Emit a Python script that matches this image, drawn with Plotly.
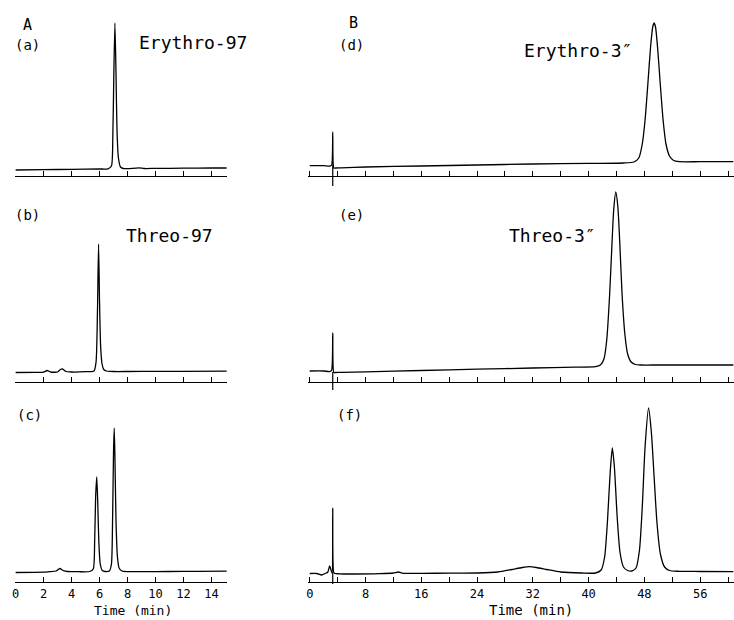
import plotly.graph_objects as go

# ---------------- chromatogram data (detector response, arbitrary units) ----------------
# Column A: 0-15 min runs
a_time = [0, 2, 4, 6, 6.6, 6.85, 6.95, 7.02, 7.1, 7.18, 7.25, 7.35, 7.5, 7.7, 8.0, 8.8, 9.2, 10, 12, 14, 15.1]
a_signal = [6, 6.3, 6.7, 7, 7.2, 10, 40, 100, 153, 100, 45, 18, 9, 7.5, 7.3, 8.2, 7.5, 7.6, 7.8, 8, 8]

b_time = [0, 1.5, 2.0, 2.25, 2.5, 3.0, 3.2, 3.35, 3.6, 4.0, 5.0, 5.6, 5.75, 5.85, 5.93, 6.0, 6.08,
          6.18, 6.3, 6.5, 7, 8, 10, 12, 15.1]
b_signal = [9.5, 9.6, 9.8, 11.5, 10, 10, 12.5, 13, 10.5, 10, 10.3, 11, 20, 70, 138, 80, 35,
            18, 12.5, 11, 10.5, 10.5, 10.6, 10.7, 10.8]

c_time = [0, 2, 2.4, 2.9, 3.15, 3.4, 3.7, 4.5, 5.3, 5.55, 5.65, 5.72, 5.8, 5.87, 5.95, 6.05, 6.2,
          6.4, 6.7, 6.85, 6.93, 7.0, 7.05, 7.1, 7.18, 7.28, 7.4, 7.6, 8, 9, 11, 13, 15.1]
c_signal = [9.5, 9.8, 10.3, 11, 13.5, 11.5, 10.5, 10.3, 10.5, 13, 40, 85, 105, 80, 40, 18, 11.5,
            10.5, 11, 18, 60, 130, 154, 125, 60, 25, 14, 11, 10.4, 10.4, 10.5, 10.7, 10.8]

# Column B: 0-60 min runs
d_time = [0, 2.0, 2.9, 3.15, 3.3, 3.45, 3.7, 4.5, 8, 16, 24, 32, 40, 45, 46.5, 47.2, 47.7, 48.1,
          48.5, 48.9, 49.2, 49.4, 49.6, 49.9, 50.3, 50.7, 51.1, 51.6, 52.2, 53, 56, 60.8]
d_signal = [10.3, 10.3, 10, 11, 44, 8, 8, 8.2, 9, 10, 11, 12, 12.6, 13, 14, 18, 32, 56,
            92, 130, 149, 153, 149, 128, 90, 55, 32, 20, 15.5, 14.3, 14.3, 14.3]

e_time = [0, 2.0, 2.9, 3.15, 3.3, 3.45, 3.7, 4.5, 8, 16, 24, 32, 38, 41, 41.7, 42.2, 42.6, 43.0,
          43.3, 43.6, 43.9, 44.2, 44.5, 44.8, 45.2, 45.6, 46.1, 46.7, 47.5, 50, 55, 60.8]
e_signal = [11, 11, 10.5, 12, 49, 9.5, 9.5, 9.7, 10.2, 11.5, 12.8, 14, 14.8, 15.3, 17, 23, 42, 85,
            130, 172, 190, 175, 135, 88, 48, 28, 20, 17.5, 17, 17, 17, 17]

f_time = [0, 1.0, 1.7, 2.2, 2.6, 2.85, 3.05, 3.2, 3.3, 3.42, 3.6, 4.2, 6, 10, 12, 12.7, 13.4, 16,
          20, 24, 27, 29, 30.5, 31.5, 32.5, 34, 36, 39, 41, 41.8, 42.3, 42.7, 43.1, 43.4, 43.7,
          44.1, 44.5, 45, 45.6, 46.2, 46.8, 47.3, 47.7, 48.1, 48.6, 49.0, 49.4, 49.8, 50.3, 50.9,
          51.6, 53, 56, 60.8]
f_signal = [8.5, 8.5, 7, 8.5, 10, 16, 12, 9, 74, 10, 8.5, 8.2, 8, 8.3, 9, 10, 8.7, 8.7,
            8.8, 9, 10, 12.5, 14.5, 15.3, 14.5, 12.5, 10, 9, 9, 12, 25, 60, 110, 134, 115,
            65, 30, 15, 11.5, 11, 14, 32, 75, 135, 174, 150, 105, 60, 28, 15,
            11.5, 10.7, 10.5, 10.3]

# Injection time (min) marked on the long runs
injection_time = 3.3

# Tick labels
a_ticks = [0, 2, 4, 6, 8, 10, 12, 14]
b_ticks = [0, 8, 16, 24, 32, 40, 48, 56]

panel_letters = ["(a)", "(b)", "(c)", "(d)", "(e)", "(f)"]
compound_names = ["Erythro-97", "Threo-97", "Erythro-3″", "Threo-3″"]

# ---------------- layout helpers ----------------
W, H = 734, 620


def fx(px):
    return px / W


def fy(px):
    return 1 - px / H


# rows: (axis line, top of plot area, bottom of plot area) in pixels
rows = [(176, 12, 200), (382, 186, 396), (582, 398, 590)]
# columns: (left px, right px, x range)
cols = [(12.0, 224.7, [-0.05, 15.1]), (306.6, 733.6, [-0.2, 60.8])]
# injection mark extents (top, bottom) relative to the axis line, for d, e, f
inj_marks = [(11, -19), (10, -8), (10, -2)]

FONT = "DejaVu Sans Mono"

series = [
    (0, 0, a_time, a_signal),
    (0, 1, b_time, b_signal),
    (0, 2, c_time, c_signal),
    (1, 0, d_time, d_signal),
    (1, 1, e_time, e_signal),
    (1, 2, f_time, f_signal),
]

fig = go.Figure()
layout = {}

for idx, (ci, ri, t, s) in enumerate(series):
    n = idx + 1
    xa = "x" if n == 1 else f"x{n}"
    ya = "y" if n == 1 else f"y{n}"
    axis_px, top_px, bot_px = rows[ri]
    left_px, right_px, xr = cols[ci]

    fig.add_trace(go.Scatter(x=t, y=s, mode="lines",
                             line=dict(color="black", width=1.3, shape="spline", smoothing=0.6),
                             xaxis=xa, yaxis=ya, showlegend=False, hoverinfo="x+y"))

    if ci == 1:
        top, bot = inj_marks[ri]
        fig.add_trace(go.Scatter(x=[injection_time, injection_time], y=[top, bot], mode="lines",
                                 line=dict(color="black", width=1.2), xaxis=xa, yaxis=ya,
                                 showlegend=False, hoverinfo="skip"))

    xkey = "xaxis" if n == 1 else f"xaxis{n}"
    ykey = "yaxis" if n == 1 else f"yaxis{n}"

    xaxis = dict(
        domain=[fx(left_px), fx(right_px)],
        range=xr,
        anchor="free",
        position=fy(axis_px),
        showline=True, linecolor="black", linewidth=1.2,
        showgrid=False, zeroline=False,
        ticks="inside", ticklen=5, tickwidth=1, tickcolor="black",
        showticklabels=(ri == 2),
        tickfont=dict(family=FONT, size=12, color="black"),
        fixedrange=True,
    )
    if ci == 0:
        xaxis.update(tickmode="array", tickvals=a_ticks, ticktext=[str(v) for v in a_ticks])
    else:
        xaxis.update(tickmode="array", tickvals=b_ticks, ticktext=[str(v) for v in b_ticks],
                     minor=dict(ticks="inside", tick0=0, dtick=4, ticklen=5,
                                tickwidth=1, tickcolor="black"))
    layout[xkey] = xaxis
    layout[ykey] = dict(
        domain=[fy(bot_px), fy(top_px)],
        range=[axis_px - bot_px, axis_px - top_px],
        visible=False, fixedrange=True,
    )

annotations = []


def label(text, x_px, y_px, size):
    annotations.append(dict(text=text, x=fx(x_px), y=fy(y_px), xref="paper", yref="paper",
                            showarrow=False, xanchor="center", yanchor="middle",
                            font=dict(family=FONT, size=size, color="black")))


label("A", 25, 25, 15)
label("B", 352, 23, 15)
for text, (xp, yp) in zip(panel_letters, [(25, 45), (25, 215), (27, 415),
                                          (350, 45), (350, 215), (348, 415)]):
    label(text, xp, yp, 14)
for text, (xp, yp) in zip(compound_names, [(191, 43), (167, 235), (577, 50), (552, 235)]):
    label(text, xp, yp, 18)
label("Time (min)", 131, 610, 13)
label("Time (min)", 530, 610, 14)

fig.update_layout(
    width=W, height=H,
    margin=dict(l=0, r=0, t=0, b=0),
    paper_bgcolor="white", plot_bgcolor="white",
    annotations=annotations,
    **layout,
)

fig.write_html("out.html")
